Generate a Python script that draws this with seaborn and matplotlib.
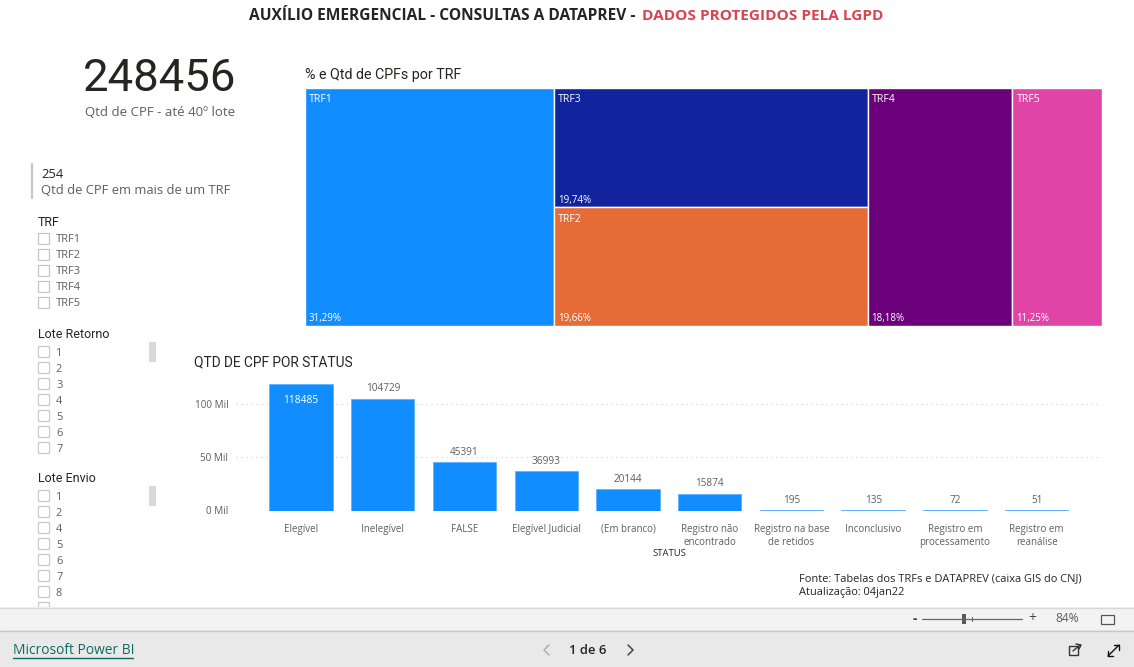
import matplotlib
matplotlib.use("Agg")
import matplotlib.pyplot as plt
import seaborn as sns
import pandas as pd
from matplotlib.patches import Rectangle

# data
status = ["Elegível", "Inelegível", "FALSE", "Elegível Judicial", "(Em branco)",
          "Registro não\nencontrado", "Registro na base\nde retidos", "Inconclusivo",
          "Registro em\nprocessamento", "Registro em\nreanálise"]
qtd = [118485, 104729, 45391, 36993, 20144, 15874, 195, 135, 72, 51]
y_ticks = [0, 50000, 100000]
y_labels = ["0 Mil", "50 Mil", "100 Mil"]

trf_names = ["TRF1", "TRF3", "TRF2", "TRF4", "TRF5"]
trf_share = [31.29, 19.74, 19.66, 18.18, 11.25]
trf_labels = ["31,29%", "19,74%", "19,66%", "18,18%", "11,25%"]
trf_colors = ["#118DFF", "#12239E", "#E66C37", "#6B007B", "#E044A7"]

lista_trf = ["TRF1", "TRF2", "TRF3", "TRF4", "TRF5"]
lista_retorno = ["1", "2", "3", "4", "5", "6", "7"]
lista_envio = ["1", "2", "4", "5", "6", "7", "8"]

W, H = 1134, 667
sns.set_theme(style="white")
plt.rcParams["font.family"] = ["Open Sans", "DejaVu Sans"]
fig = plt.figure(figsize=(W / 100, H / 100), dpi=100, facecolor="white")


def box(left, top, right, bottom):
    return [left / W, 1 - bottom / H, (right - left) / W, (bottom - top) / H]


# page layer in pixels, for everything around the two charts
page = fig.add_axes([0, 0, 1, 1], zorder=0)
page.set_xlim(0, W)
page.set_ylim(H, 0)
page.axis("off")


def label(x, y, s, px=9, color="#605E5C", font="Open Sans", **kw):
    kw.setdefault("va", "center")
    page.text(x, y + 1, s, fontsize=px * 0.72, color=color, family=[font, "DejaVu Sans"], **kw)


label(249, 15, "AUXÍLIO EMERGENCIAL - CONSULTAS A DATAPREV - ", px=15.55, color="#252423",
      fontweight="bold")
label(642, 15, "DADOS PROTEGIDOS PELA LGPD", px=15.4, color="#D64550", fontweight="bold")

# cards
label(160, 78, "248456", px=45.5, color="#252423", font="Roboto", ha="center")
label(160, 112, "Qtd de CPF - até 40º lote", px=13.2, color="#605E5C", ha="center")
page.plot([32, 32], [164, 198], color="#C8C6C4", lw=1.6)
label(41, 173, "254", px=13, color="#252423")
label(41, 190, "Qtd de CPF em mais de um TRF", px=13, color="#605E5C")


def slicer(title, title_y, items, thumb=None):
    label(38, title_y, title, px=12.5, color="#252423", font="Roboto")
    for i, item in enumerate(items):
        y = title_y + 18 + i * 16
        page.add_patch(Rectangle((38, y - 6), 11, 11, fc="white", ec="#C8C8C8", lw=0.9))
        label(56, y, item, px=11, color="#605E5C")
    if thumb is not None:
        page.add_patch(Rectangle((149, thumb), 7, 20, fc="#D9D9D9", ec="none"))


slicer("TRF", 221, lista_trf)
slicer("Lote Retorno", 334, lista_retorno, thumb=342)
slicer("Lote Envio", 478, lista_envio, thumb=486)
page.add_patch(Rectangle((38, 602), 11, 5, fc="white", ec="#C8C8C8", lw=0.9))

label(305, 74, "% e Qtd de CPFs por TRF", px=14.2, color="#252423", font="Roboto")
label(194, 361, "QTD DE CPF POR STATUS", px=13.8, color="#252423", font="Roboto")
label(669, 552, "STATUS", px=9.5, color="#252423", ha="center")
label(799, 578, "Fonte: Tabelas dos TRFs e DATAPREV (caixa GIS do CNJ)", px=11, color="#252423")
label(799, 592, "Atualização: 04jan22", px=11, color="#252423")

# Power BI footer
page.add_patch(Rectangle((0, 607), W, 23, fc="#F3F3F3", ec="none"))
page.add_patch(Rectangle((0, 630), W, 37, fc="#E9E9E9", ec="none"))
page.plot([0, W], [607.5, 607.5], color="#D8D8D8", lw=1)
page.plot([0, W], [630.5, 630.5], color="#C8C8C8", lw=1)
label(13, 650, "Microsoft Power BI", px=13.7, color="#0F6B62")
page.plot([13, 133], [657.5, 657.5], color="#0F6B62", lw=1)
label(588, 649, "1 de 6", px=13, color="#252423", ha="center", fontweight="semibold")
page.plot([549, 544, 549], [645, 650, 655], color="#B0B0B0", lw=1.1)
page.plot([628, 633, 628], [645, 650, 655], color="#444444", lw=1.1)

# zoom control
label(915, 618, "-", px=14, color="#444444", ha="center", fontweight="bold")
page.plot([922, 1022], [619, 619], color="#666666", lw=0.9)
page.plot([972, 972], [617, 621], color="#666666", lw=0.8)
page.add_patch(Rectangle((962, 614), 4, 10, fc="#5A5A5A", ec="none"))
label(1032, 618, "+", px=14, color="#444444", ha="center")
label(1067, 618, "84%", px=12, color="#605E5C", ha="center")
page.add_patch(Rectangle((1101, 615), 13, 9, fc="none", ec="#555555", lw=0.9))
# share and expand icons
page.add_patch(Rectangle((1069, 646), 9, 9, fc="none", ec="#333333", lw=1))
page.plot([1073, 1080], [651, 645], color="#333333", lw=1)
page.plot([1076, 1081, 1079], [644, 645, 649], color="#333333", lw=1)
page.plot([1108, 1119], [656, 645], color="#111111", lw=1)
page.plot([1114, 1119, 1119], [645, 645, 650], color="#111111", lw=1)
page.plot([1108, 1108, 1113], [651, 656, 656], color="#111111", lw=1)

# treemap: TRF1 column, TRF3 over TRF2 column, then TRF4 and TRF5
tree = fig.add_axes(box(304.5, 88, 1102, 326), zorder=2)
tree.set_xlim(0, sum(trf_share))
tree.set_ylim(1, 0)
tree.axis("off")
shares = dict(zip(trf_names, trf_share))
col_trf32 = shares["TRF3"] + shares["TRF2"]
frac_trf3 = shares["TRF3"] / col_trf32
layout = {
    "TRF1": (0, shares["TRF1"], 0, 1),
    "TRF3": (shares["TRF1"], col_trf32, 0, frac_trf3),
    "TRF2": (shares["TRF1"], col_trf32, frac_trf3, 1 - frac_trf3),
    "TRF4": (shares["TRF1"] + col_trf32, shares["TRF4"], 0, 1),
    "TRF5": (shares["TRF1"] + col_trf32 + shares["TRF4"], shares["TRF5"], 0, 1),
}
for name, color, pct in zip(trf_names, trf_colors, trf_labels):
    left, width, top, height = layout[name]
    tree.bar(left, height, width=width, bottom=top, align="edge", color=color,
             edgecolor="white", linewidth=1)
    tree.annotate(name, (left, top), xytext=(4, -12), textcoords="offset pixels",
                  color="white", fontsize=7.6, va="center")
    tree.annotate(pct, (left, top + height), xytext=(4, 7), textcoords="offset pixels",
                  color="white", fontsize=7, va="center")

# bars
df = pd.DataFrame({"status": status, "qtd": qtd})
ax = fig.add_axes(box(236, 384, 1102, 510.5), zorder=2)
sns.barplot(data=df, x="status", y="qtd", color="#118DFF", saturation=1, width=0.775,
            edgecolor="#5FB1FF", linewidth=0.6, ax=ax)
ax.set_xlim(-0.796, 9.8)
ax.set_ylim(0, 118800)
ax.patch.set_alpha(0)
sns.despine(ax=ax, left=True, bottom=True)
ax.set_xlabel("")
ax.set_ylabel("")
ax.set_yticks(y_ticks, y_labels)
ax.yaxis.grid(True, color="#D9D9D9", linestyle=(0, (1, 3)), linewidth=0.9)
ax.set_axisbelow(True)
ax.tick_params(axis="y", length=0, pad=5.5, labelsize=7.1, labelcolor="#605E5C")
ax.tick_params(axis="x", length=0, pad=9.5, labelsize=7.05, labelcolor="#605E5C")
for lab in ax.get_xticklabels():
    lab.set_linespacing(1.3)
    lab.set_verticalalignment("top")

for i, v in enumerate(qtd):
    if i == 0:
        ax.annotate(str(v), (i, v), xytext=(0, -16), textcoords="offset pixels", ha="center",
                    va="center", color="white", fontsize=7.4)
    else:
        ax.annotate(str(v), (i, v), xytext=(0, 10), textcoords="offset pixels", ha="center",
                    va="center", color="#605E5C", fontsize=7.2, annotation_clip=False)

fig.savefig("out.png", dpi=100, facecolor="white")
